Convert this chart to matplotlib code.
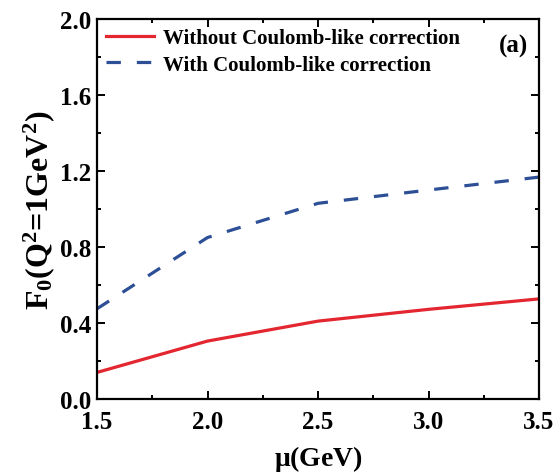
import numpy as np
import matplotlib.pyplot as plt
from matplotlib.ticker import MultipleLocator

plt.rcParams['font.family'] = ['Liberation Serif', 'DejaVu Serif']
plt.rcParams['font.weight'] = 'bold'
plt.rcParams['axes.labelweight'] = 'bold'
plt.rcParams['mathtext.fontset'] = 'custom'
plt.rcParams['mathtext.rm'] = 'Liberation Serif:bold'
plt.rcParams['mathtext.it'] = 'Liberation Serif:bold'
plt.rcParams['mathtext.bf'] = 'Liberation Serif:bold'

mu = [1.5, 2.0, 2.5, 3.0, 3.5]
f0_without = [0.14, 0.305, 0.41, 0.472, 0.527]
f0_with = [0.475, 0.85, 1.03, 1.10, 1.168]

fig = plt.figure(figsize=(5.56, 4.77), dpi=100)
ax = fig.add_axes([0.1745, 0.1614, 0.795, 0.7966])

ax.plot(mu, f0_without, color='#e3262f', lw=2.3, label='Without Coulomb-like correction')
ax.plot(mu, f0_with, color='#2d4f96', lw=2.3, dashes=(4.5, 5),
        label='With Coulomb-like correction')

ax.set_xlim(1.5, 3.5)
ax.set_ylim(0, 2.0)
ax.xaxis.set_major_locator(MultipleLocator(0.5))
ax.xaxis.set_minor_locator(MultipleLocator(0.25))
ax.yaxis.set_major_locator(MultipleLocator(0.4))
ax.yaxis.set_minor_locator(MultipleLocator(0.2))
ax.tick_params(which='both', direction='in', top=True, right=True, width=1.4)
ax.tick_params(which='major', length=6, labelsize=18)
ax.tick_params(axis='x', which='major', pad=8)
ax.tick_params(axis='y', which='major', pad=4)
ax.tick_params(which='minor', length=3)
for s in ax.spines.values():
    s.set_linewidth(1.6)

ax.set_xlabel(r'$\mathregular{\mu}$(GeV)', fontsize=20, fontweight='bold', labelpad=7)
ax.set_ylabel(r'F$_\mathregular{0}$(Q$^\mathregular{2}$=1GeV$^\mathregular{2}$)',
              fontsize=23, fontweight='bold', labelpad=2)

ax.text(0.975, 0.93, '(a)', transform=ax.transAxes, ha='right', va='center',
        fontsize=18, fontweight='bold')

ax.legend(loc='upper left', frameon=False, fontsize=15, handlelength=2.3,
          handletextpad=0.4, borderaxespad=0.15, labelspacing=0.3, borderpad=0.3)

fig.savefig('out.png', dpi=100)
